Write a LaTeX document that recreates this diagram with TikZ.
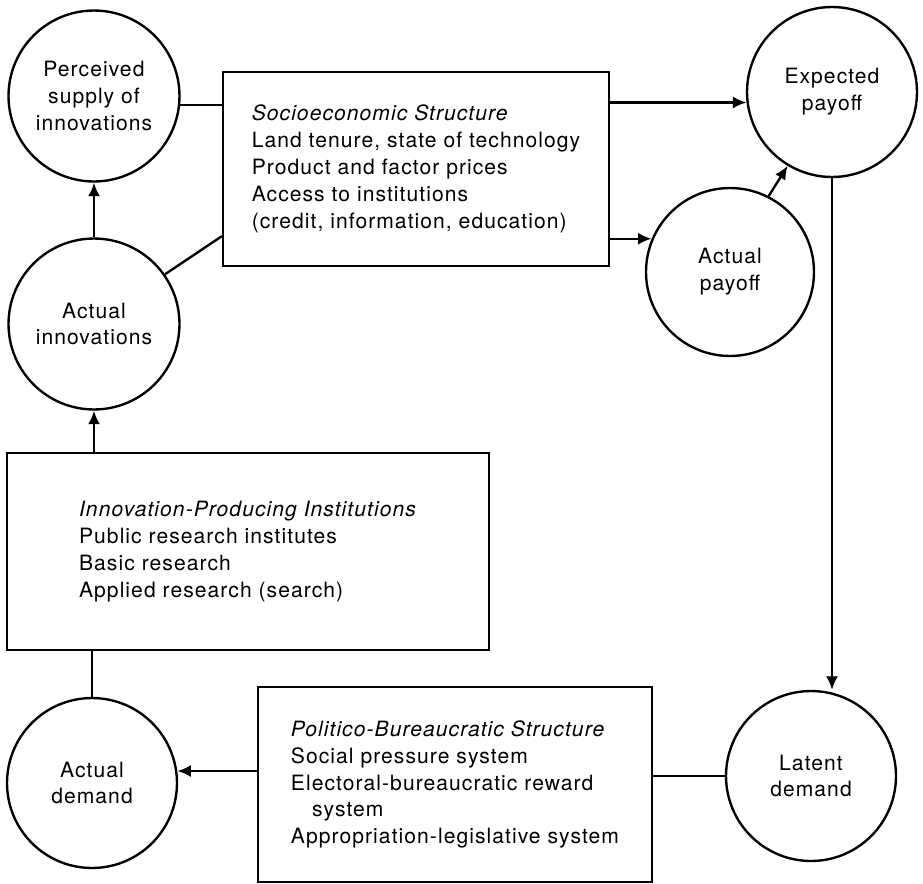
\documentclass[tikz,border=0pt]{standalone}
\usepackage{fontspec}
\setmainfont{TeX Gyre Heros}[LetterSpace=5]
\usetikzlibrary{arrows.meta,calc}
\tikzset{
  circ/.style={circle, draw, inner sep=0pt, minimum size=3.42cm, align=center},
  txtbox/.style={rectangle, draw, inner sep=0pt, align=left},
  arr/.style={-{Latex[length=0.27cm,width=0.24cm]}},
  ln/.style={-}
}
\begin{document}
\begin{tikzpicture}[x=0.02cm,y=-0.02cm, font={\fontsize{12}{15.3}\selectfont}, line width=1.35pt]
\useasboundingbox (0,0) rectangle (923,883);
% circles
\node[circ] (psi) at (94,96) {Perceived\\supply of\\innovations};
\node[circ] (ai) at (94,324) {Actual\\innovations};
\node[circ, minimum size=3.4cm] (ep) at (832,92) {Expected\\payoff};
\node[circ, minimum size=3.36cm] (ap) at (730,272) {Actual\\payoff};
\node[circ, minimum size=3.4cm] (ld) at (811,776) {Latent\\demand};
\node[circ, minimum size=3.4cm] (ad) at (92,783) {Actual\\demand};
% boxes
\node[txtbox, minimum width=7.72cm, minimum height=3.88cm] (se) at (416,169)
  {\textit{Socioeconomic Structure}\\Land tenure, state of technology\\Product and factor prices\\Access to institutions\\(credit, information, education)};
\node[txtbox, minimum width=9.64cm, minimum height=3.94cm] (ipi) at (248,551.5)
  {\textit{Innovation-Producing Institutions}\\Public research institutes\\Basic research\\Applied research (search)};
\node[txtbox, minimum width=7.88cm, minimum height=3.9cm] (pb) at (455,784.5)
  {\textit{Politico-Bureaucratic Structure}\\Social pressure system\\Electoral-bureaucratic reward\\\hspace*{1em}system\\Appropriation-legislative system};
% connectors
\draw[arr] (ai.south |- ipi.north) -- (ai.south);
\draw[arr] (ai.north) -- (psi.south);
\draw[ln] (psi.-6) -- (psi.-6 -| se.west);
\draw[ln] (ai.35) -- ($(se.south west)+(0,-31)$);
\draw[arr] (ep.187 -| se.east) -- (ep.187);
\draw[arr] (ap.157 -| se.east) -- (ap.157);
\draw[arr] (ap.63) -- (ep.239);
\draw[arr] (ep.south) -- (ep.south |- ld.north);
\draw[ln] (ld.west) -- (ld.west -| pb.east);
\draw[arr] (ad.8 -| pb.west) -- (ad.8);
\draw[ln] (ad.north) -- (ad.north |- ipi.south);
\end{tikzpicture}
\end{document}
